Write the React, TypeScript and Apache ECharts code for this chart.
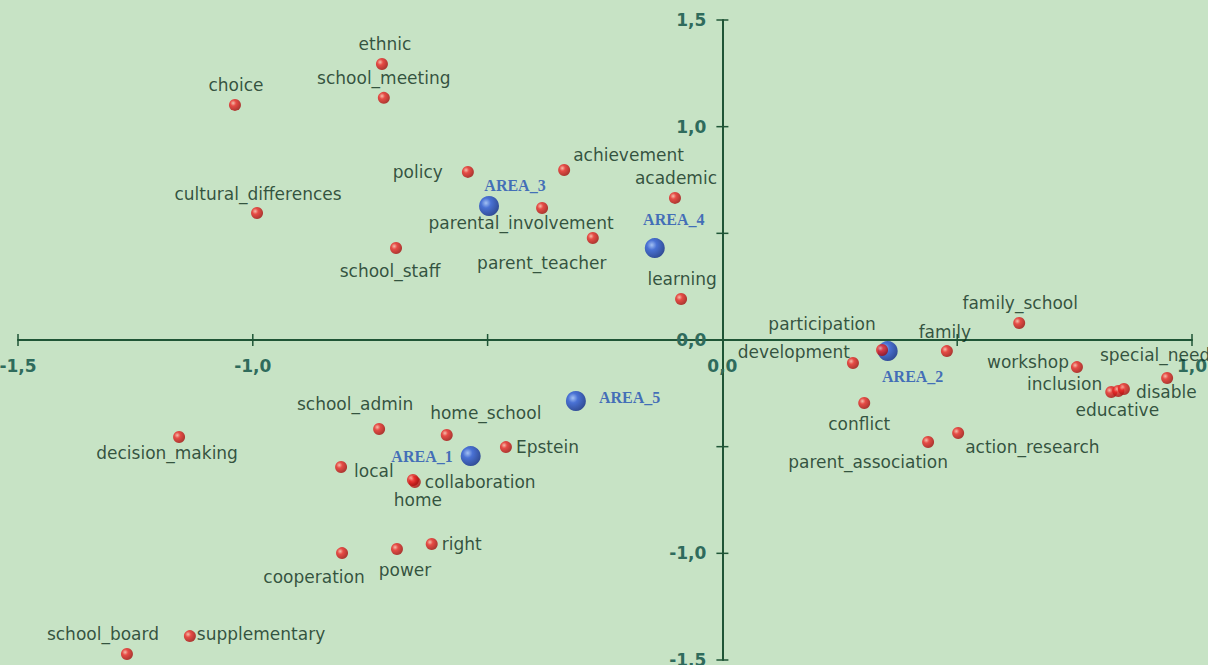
import React, { useEffect, useRef } from "react";
import * as echarts from "echarts";

// ---- data ----
const wordNames = [
  "ethnic", "school_meeting", "choice", "cultural_differences", "policy",
  "achievement", "academic", "parental_involvement", "parent_teacher", "school_staff",
  "learning", "family_school", "participation", "development", "family",
  "workshop", "inclusion", "educative", "disable", "special_need",
  "conflict", "parent_association", "action_research", "school_admin", "home_school",
  "Epstein", "decision_making", "local", "collaboration", "home",
  "cooperation", "power", "right", "school_board", "supplementary",
];
const wordX = [
  -0.725, -0.721, -1.038, -0.991, -0.542,
  -0.337, -0.101, -0.384, -0.276, -0.695,
  -0.088, 0.632, 0.340, 0.278, 0.478,
  0.755, 0.828, 0.843, 0.855, 0.947,
  0.302, 0.438, 0.502, -0.731, -0.587,
  -0.461, -1.157, -0.812, -0.655, -0.659,
  -0.810, -0.693, -0.619, -1.268, -1.134,
];
const wordY = [
  1.294, 1.135, 1.102, 0.595, 0.788,
  0.797, 0.666, 0.619, 0.478, 0.431,
  0.192, 0.080, -0.047, -0.108, -0.052,
  -0.127, -0.244, -0.239, -0.230, -0.178,
  -0.295, -0.478, -0.436, -0.417, -0.445,
  -0.502, -0.455, -0.595, -0.666, -0.656,
  -0.999, -0.980, -0.956, -1.472, -1.388,
];
const areaNames = ["AREA_1", "AREA_2", "AREA_3", "AREA_4", "AREA_5"];
const areaX = [-0.536, 0.352, -0.497, -0.144, -0.312];
const areaY = [-0.544, -0.052, 0.628, 0.431, -0.286];
const xTickLabels = [-1.5, -1.0, 0.0, 1.0];
const yTickLabels = [-1.5, -1.0, 0.0, 1.0, 1.5];
const xTickMarks = [-1.5, -1.0, -0.5, 0.5, 1.0];
const yTickMarks = [-1.5, -1.0, -0.5, 0.5, 1.0, 1.5];

// ---- label placement (style) ----
const labelPlace: Record<string, [string, number, number]> = {
  ethnic: ["top", 3, 0],
  school_meeting: ["top", 0, 0],
  choice: ["top", 1, 0],
  cultural_differences: ["top", 1, 0],
  policy: ["left", -14, 0],
  achievement: ["right", -2, -15],
  academic: ["top", 1, 0],
  parental_involvement: ["bottom", -21, -4],
  parent_teacher: ["bottom", -51, 5],
  school_staff: ["bottom", -6, 3],
  learning: ["top", 1, -1],
  family_school: ["top", 1, 0],
  participation: ["top", -60, -7],
  development: ["left", 8, -11],
  family: ["top", -2, 0],
  workshop: ["left", 3, -5],
  inclusion: ["left", 2, -8],
  educative: ["bottom", -1, 0],
  disable: ["right", 1, 3],
  special_need: ["top", -12, -3],
  conflict: ["bottom", -5, 2],
  parent_association: ["bottom", -60, 1],
  action_research: ["right", -4, 14],
  school_admin: ["top", -24, -5],
  home_school: ["top", 39, -2],
  Epstein: ["right", -1, 0],
  decision_making: ["bottom", -12, -4],
  local: ["right", 2, 4],
  collaboration: ["right", -1, 0],
  home: ["bottom", 5, 1],
  cooperation: ["bottom", -28, 4],
  power: ["bottom", 8, 1],
  right: ["right", -1, 0],
  school_board: ["top", -24, -1],
  supplementary: ["right", -4, -2],
  AREA_1: ["left", -3, 0],
  AREA_2: ["bottom", 25, 2],
  AREA_3: ["top", 26, 2],
  AREA_4: ["top", 19, -6],
  AREA_5: ["right", 8, -4],
};

const fmt = (v: number) => v.toFixed(1).replace(".", ",");

const AXIS_COLOR = "#1f5536";
const AXIS_LABEL_COLOR = "#2f6b5c";

export default function App() {
  const ref = useRef<HTMLDivElement>(null);
  useEffect(() => {
    if (!ref.current) return;
    const chart = echarts.init(ref.current, undefined, { renderer: "svg" });

    const redFill = {
      type: "radial", x: 0.35, y: 0.35, r: 0.7,
      colorStops: [
        { offset: 0, color: "#ffb4a4" },
        { offset: 0.35, color: "#ee2626" },
        { offset: 1, color: "#a00a0a" },
      ],
    };
    const blueFill = {
      type: "radial", x: 0.35, y: 0.35, r: 0.7,
      colorStops: [
        { offset: 0, color: "#9ab8ff" },
        { offset: 0.35, color: "#2a55d8" },
        { offset: 1, color: "#0b2688" },
      ],
    };

    const mk = (names: string[], xs: number[], ys: number[]) =>
      names.map((n, i) => {
        const p = labelPlace[n] || ["top", 0, 0];
        return {
          name: n,
          value: [xs[i], ys[i]],
          label: { position: p[0], offset: [p[1], p[2]] },
        };
      });

    // tick marks crossing the axis lines, placed through the axis scales
    const tickSeries = (vals: number[], dim: "x" | "y") => ({
      type: "custom",
      silent: true,
      clip: false,
      z: 1,
      data: vals.map((v) => (dim === "x" ? [v, 0] : [0, v])),
      renderItem: (_params: any, api: any) => {
        const p = api.coord([api.value(0), api.value(1)]);
        const h = 6;
        const shape =
          dim === "x"
            ? { x1: p[0], y1: p[1] - h, x2: p[0], y2: p[1] + h }
            : { x1: p[0] - h, y1: p[1], x2: p[0] + h, y2: p[1] };
        return { type: "line", shape, style: { stroke: AXIS_COLOR, lineWidth: 1.5 } };
      },
    });

    // tick labels next to the zero-crossing axis lines
    const tickLabelSeries = (vals: number[], dim: "x" | "y") => ({
      type: "custom",
      silent: true,
      clip: false,
      z: 1,
      data: vals.map((v) => (dim === "x" ? [v, 0] : [0, v])),
      renderItem: (_params: any, api: any) => {
        const v = dim === "x" ? api.value(0) : api.value(1);
        const p = api.coord([api.value(0), api.value(1)]);
        return {
          type: "text",
          x: dim === "x" ? p[0] : p[0] - 16,
          y: dim === "x" ? p[1] + 17 : p[1],
          style: {
            text: fmt(v),
            fill: AXIS_LABEL_COLOR,
            fontFamily: "DejaVu Sans",
            fontWeight: "bold",
            fontSize: 17,
            align: dim === "x" ? "center" : "right",
            verticalAlign: dim === "x" ? "top" : "middle",
          },
        };
      },
    });

    chart.setOption({
      animation: false,
      backgroundColor: "#c7e3c5",
      grid: { left: 18, right: 16, top: 20, bottom: 5, containLabel: false, outerBoundsMode: "none" },
      xAxis: {
        type: "value", min: -1.5, max: 1.0, interval: 0.5,
        splitLine: { show: false },
        axisLine: { show: true, onZero: true, lineStyle: { color: AXIS_COLOR, width: 2 } },
        axisTick: { show: false },
        axisLabel: { show: false },
      },
      yAxis: {
        type: "value", min: -1.5, max: 1.5, interval: 0.5,
        splitLine: { show: false },
        axisLine: { show: true, onZero: true, lineStyle: { color: AXIS_COLOR, width: 2 } },
        axisTick: { show: false },
        axisLabel: { show: false },
      },
      series: [
        tickSeries(xTickMarks, "x"),
        tickSeries(yTickMarks, "y"),
        tickLabelSeries(xTickLabels, "x"),
        tickLabelSeries(yTickLabels, "y"),
        {
          name: "areas",
          type: "scatter",
          symbol: "circle",
          symbolSize: 20,
          z: 3,
          itemStyle: { color: blueFill },
          label: {
            show: true,
            formatter: "{b}",
            distance: 5,
            color: "#1f4fb4",
            fontFamily: "Liberation Serif",
            fontWeight: "bold",
            fontSize: 16,
          },
          data: mk(areaNames, areaX, areaY),
        },
        {
          name: "words",
          type: "scatter",
          symbol: "circle",
          symbolSize: 12,
          z: 4,
          itemStyle: { color: redFill },
          label: {
            show: true,
            formatter: "{b}",
            distance: 5,
            color: "#0b2d1a",
            fontFamily: "DejaVu Sans",
            fontSize: 17,
          },
          data: mk(wordNames, wordX, wordY),
        },
      ],
    });
    return () => chart.dispose();
  }, []);
  return (
    <div
      ref={ref}
      style={{ position: "fixed", left: 0, top: 0, width: 1208, height: 665 }}
    />
  );
}
